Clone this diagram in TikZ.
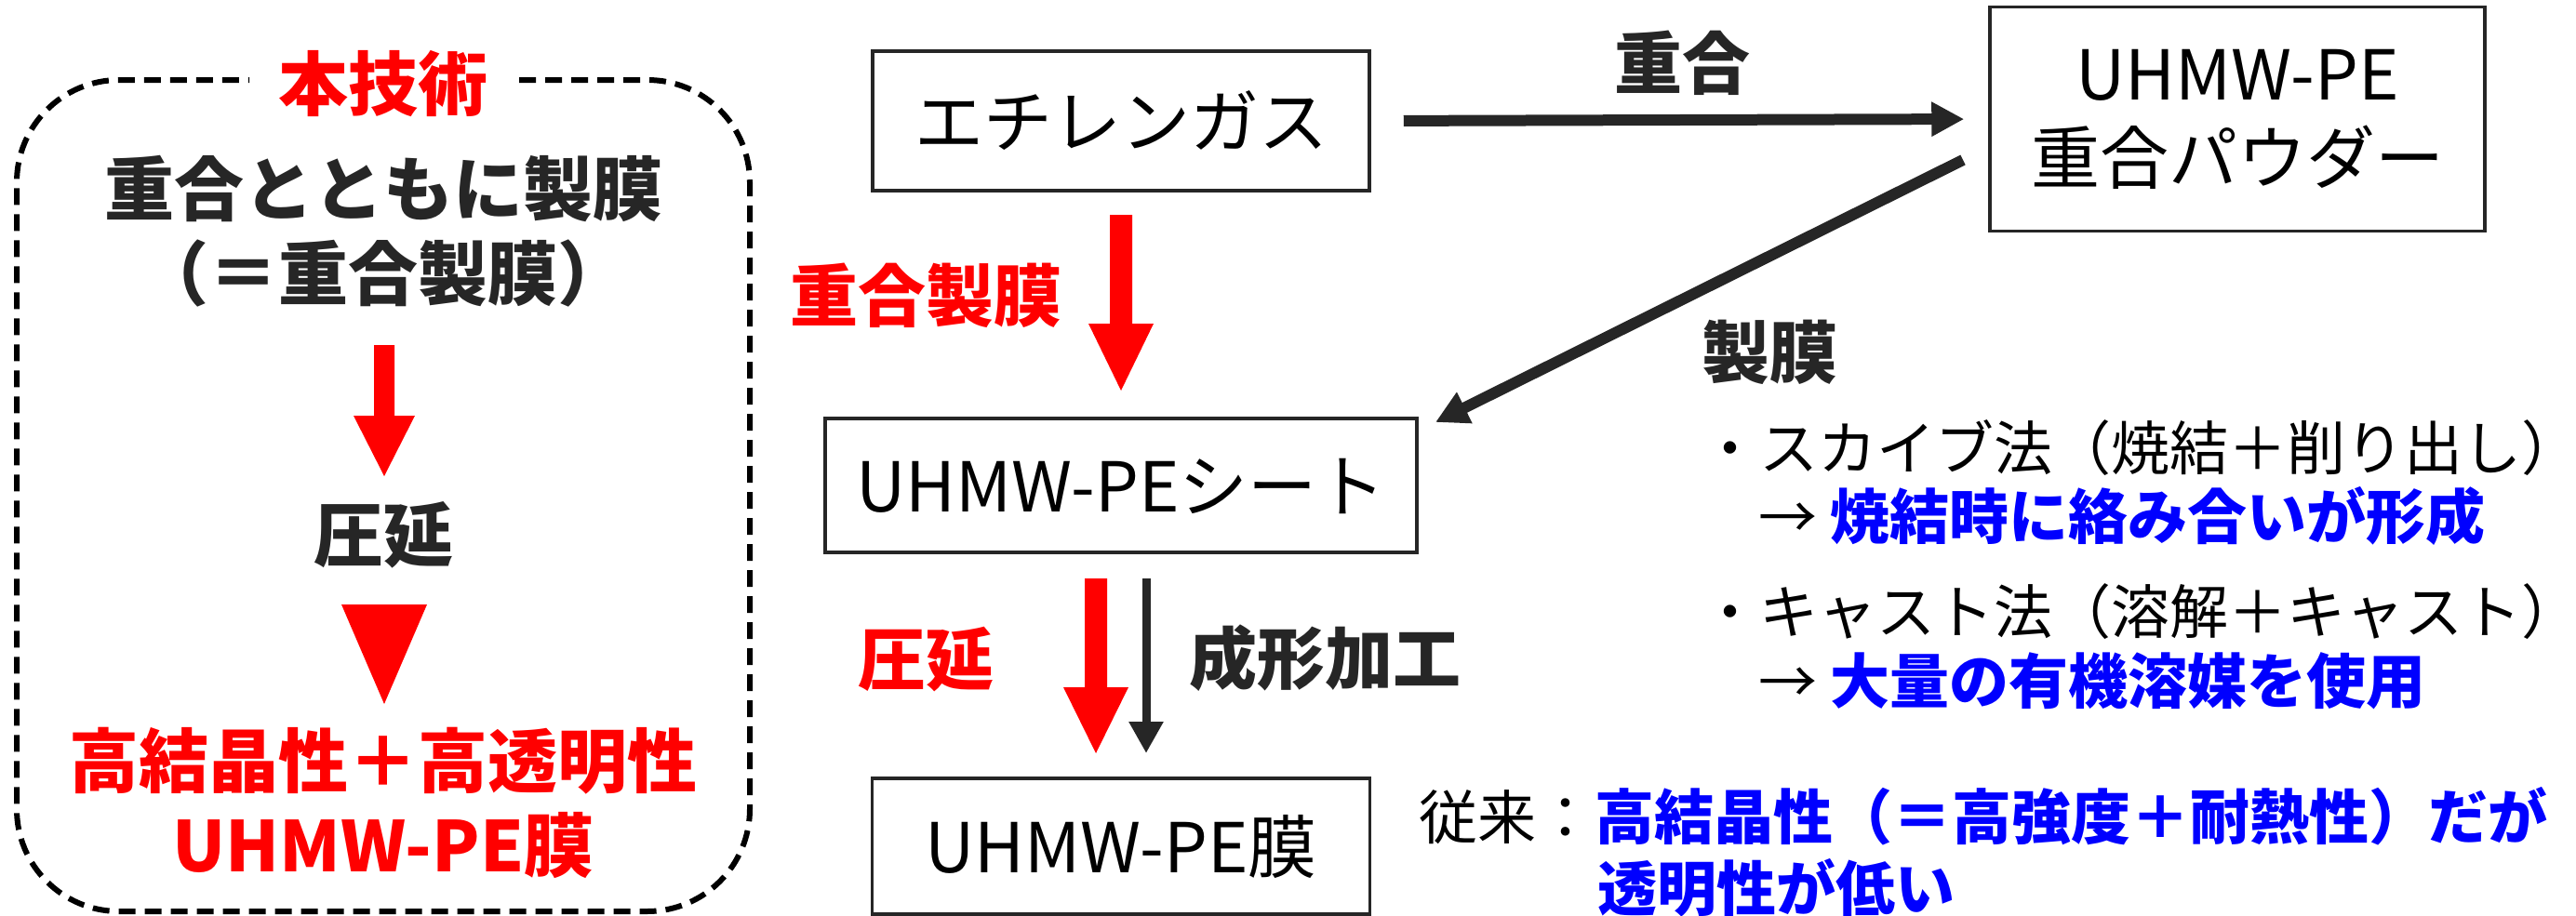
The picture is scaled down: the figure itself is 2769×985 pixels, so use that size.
\documentclass[tikz,border=0pt]{standalone}
\usepackage{fontspec}
\setmainfont{Noto Sans CJK JP}[BoldFont={Noto Sans CJK JP Black}]
\usetikzlibrary{arrows.meta}
\definecolor{txtdark}{HTML}{262626}
\definecolor{myred}{HTML}{FF0000}
\definecolor{myblue}{HTML}{0000FF}
\begin{document}
\begin{tikzpicture}[x=1pt,y=-1pt,
  boxnode/.style={draw=txtdark, line width=3.5pt, inner sep=0pt, text=black,
    font=\fontsize{74}{90}\selectfont},
  oneline/.style={text height=65pt, text depth=9pt},
  lefttext/.style={inner sep=0pt, text=txtdark, font=\fontsize{75}{90}\selectfont\bfseries,
    text height=66pt, text depth=9pt},
  midlabel/.style={inner sep=0pt, text=txtdark, font=\fontsize{73}{90}\selectfont\bfseries,
    text height=64pt, text depth=9pt},
  righttext/.style={inner sep=0pt, text=black, font=\fontsize{63}{76}\selectfont,
    text height=55pt, text depth=8pt, anchor=west},
  darkarrow/.style={draw=txtdark, line width=12pt, -{Triangle[length=35pt,width=35pt]}},
  dashedframe/.style={draw=black, line width=6pt, dash pattern=on 18pt off 10pt, rounded corners=110pt}
]
\useasboundingbox (0,0) rectangle (2769,985);

% ---------- left panel ----------
\draw[dashedframe] (558,86) -- (806,86) -- (806,980) -- (18,980) -- (18,86) -- (268,86);
\node[lefttext, text=myred] (title) at (412,90) {本技術};
\node[lefttext] (l1) at (412,203) {重合とともに製膜};
\node[lefttext] (l2) at (412,294) {（＝重合製膜）};
\fill[myred] (402,371) -- (424,371) -- (424,447) -- (446,447) -- (413,512) -- (380,447) -- (402,447) -- cycle;
\node[lefttext] (l3) at (412,575) {圧延};
\fill[myred] (367,650) -- (459,650) -- (413,757) -- cycle;
\node[lefttext, text=myred] (l4) at (412,818) {高結晶性＋高透明性};
\node[lefttext, text=myred] (l5) at (412,909) {UHMW-PE膜};

% ---------- flow boxes ----------
\node[boxnode, oneline, minimum width=534pt, minimum height=150pt] (eth) at (1205,130) {エチレンガス};
\node[boxnode, minimum width=532pt, minimum height=241pt, align=center] (pow) at (2405,128) {UHMW-PE\\重合パウダー};
\node[boxnode, oneline, minimum width=636pt, minimum height=144pt] (sheet) at (1205,522) {UHMW-PEシート};
\node[boxnode, oneline, minimum width=535pt, minimum height=146pt] (film) at (1205,910) {UHMW-PE膜};

% ---------- connectors ----------
\draw[darkarrow, shorten <=35pt, shorten >=26pt] (eth.east) -- (pow.west);
\coordinate (dstart) at (2110,172);
\coordinate (dend) at (1543,454);
\draw[darkarrow] (dstart) -- (dend);

% red block arrow: polymerization film forming
\fill[myred] (1193,231) -- (1217,231) -- (1217,348) -- (1240,348) -- (1205,420) -- (1170,348) -- (1193,348) -- cycle;
% red block arrow: rolling
\fill[myred] (1166,622) -- (1190,622) -- (1190,739) -- (1213,739) -- (1178,810) -- (1143,739) -- (1166,739) -- cycle;
% black thin arrow: forming
\coordinate (fstart) at (1232,622);
\coordinate (fend) at (1232,810);
\draw[draw=txtdark, line width=9pt, -{Triangle[length=34pt,width=35pt]}] (fstart) -- (fend);

% ---------- labels ----------
\node[midlabel, text=myred, anchor=east] (m1) at (1142,318) {重合製膜};
\node[midlabel, text=myred, anchor=east] (m2) at (1069,709) {圧延};
\node[midlabel, anchor=west] (m3) at (1278,708) {成形加工};
\node[midlabel] (m4) at (1808,68) {重合};
\node[midlabel, anchor=west] (m5) at (1829,379) {製膜};

% ---------- right texts ----------
\node[righttext] (r1) at (1828,482) {・スカイブ法（焼結＋削り出し）};
\node[righttext] (r2) at (1890,556) {→ \textcolor{myblue}{\bfseries\fontsize{64}{76}\selectfont 焼結時に絡み合いが形成}};
\node[righttext] (r3) at (1828,658) {・キャスト法（溶解＋キャスト）};
\node[righttext] (r4) at (1890,733) {→ \textcolor{myblue}{\bfseries\fontsize{64}{76}\selectfont 大量の有機溶媒を使用}};
\node[righttext] (r5) at (1525,879) {従来：\textcolor{myblue}{\bfseries\fontsize{64}{76}\selectfont 高結晶性（＝高強度＋耐熱性）だが}};
\node[righttext, text=myblue, font=\fontsize{64}{76}\selectfont\bfseries] (r6) at (1717,956) {透明性が低い};
\end{tikzpicture}
\end{document}
